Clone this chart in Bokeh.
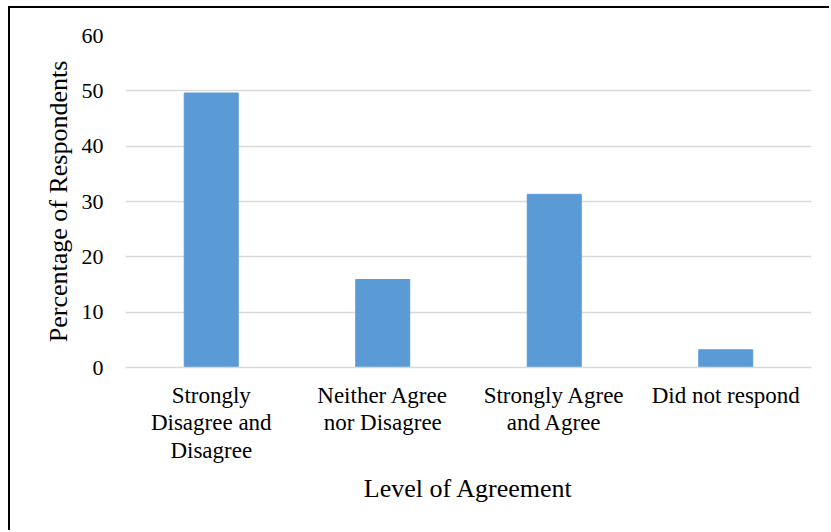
from bokeh.plotting import figure
from bokeh.models import FixedTicker
from bokeh.embed import file_html
from bokeh.resources import INLINE

# Survey responses by level of agreement (percent of respondents)
categories = [
    "Strongly\nDisagree and\nDisagree",
    "Neither Agree\nnor Disagree",
    "Strongly Agree\nand Agree",
    "Did not respond",
]
percentages = [49.6, 15.9, 31.3, 3.2]
y_ticks = [0, 10, 20, 30, 40, 50, 60]

FONT = "Liberation Serif"
GRID = "#d9d9d9"

p = figure(
    x_range=categories,
    y_range=(0, 60),
    width=821,
    height=524,
    output_backend="svg",
    toolbar_location=None,
    min_border_left=115,
    min_border_right=20,
    min_border_top=27,
    min_border_bottom=165,
)

p.vbar(x=categories, top=percentages, width=0.315,
       fill_color="#5B9BD5", line_color="#5B9BD5")

p.outline_line_color = None
p.xgrid.visible = False
p.ygrid.grid_line_color = GRID
p.ygrid.grid_line_width = 1.5

p.yaxis.ticker = FixedTicker(ticks=y_ticks)
p.yaxis.axis_line_color = None
p.yaxis.major_tick_line_color = None
p.yaxis.minor_tick_line_color = None
p.yaxis.major_label_standoff = 16
p.yaxis.major_label_text_font = FONT
p.yaxis.major_label_text_font_size = "22px"
p.yaxis.major_label_text_color = "black"
p.yaxis.axis_label = "Percentage of Respondents"
p.yaxis.axis_label_text_font = FONT
p.yaxis.axis_label_text_font_size = "26px"
p.yaxis.axis_label_text_font_style = "normal"
p.yaxis.axis_label_text_color = "black"
p.yaxis.axis_label_standoff = 6

p.xaxis.axis_line_color = GRID
p.xaxis.axis_line_width = 1.5
p.xaxis.major_tick_line_color = None
p.xaxis.minor_tick_line_color = None
p.xaxis.major_label_standoff = 9
p.xaxis.major_label_text_font = FONT
p.xaxis.major_label_text_font_size = "23px"
p.xaxis.major_label_text_color = "black"
p.xaxis.major_label_text_line_height = 1.1
p.xaxis.axis_label = "Level of Agreement"
p.xaxis.axis_label_text_font = FONT
p.xaxis.axis_label_text_font_size = "26px"
p.xaxis.axis_label_text_font_style = "normal"
p.xaxis.axis_label_text_color = "black"
p.xaxis.axis_label_standoff = 8

# Frame line along the top and left of the chart area
p.styles = {
    "margin-left": "8px",
    "margin-top": "6px",
    "border-left": "2px solid black",
    "border-top": "2px solid black",
}

open("out.html", "w").write(file_html(p, INLINE))
